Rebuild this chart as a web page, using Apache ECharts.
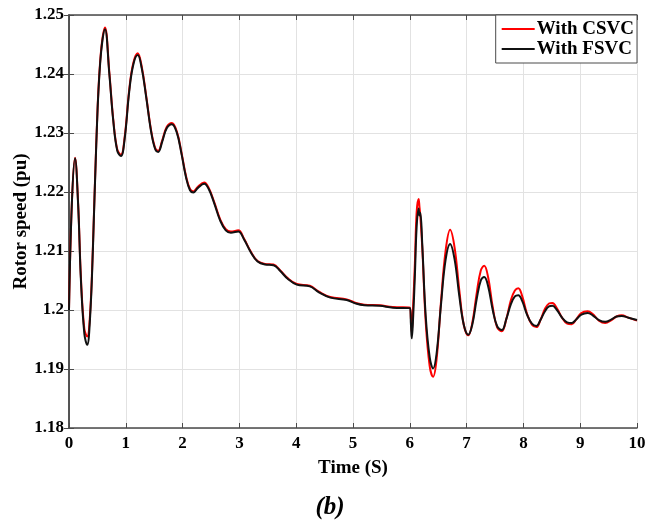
<!DOCTYPE html>
<html>
<head>
<meta charset="utf-8">
<script src="https://cdn.jsdelivr.net/npm/echarts@6/dist/echarts.min.js"></script>
<style>html,body{margin:0;padding:0;background:#fff;}#c{width:660px;height:527px;}</style>
</head>
<body>
<div id="c"></div>
<script>
const time = [0,0.05,0.106,0.16,0.21,0.27,0.32,0.37,0.42,0.48,0.55,0.634,0.71,0.78,0.85,0.915,0.98,1.06,1.13,1.21,1.28,1.36,1.45,1.52,1.57,1.64,1.72,1.81,1.90,1.98,2.06,2.13,2.19,2.27,2.38,2.46,2.56,2.66,2.76,2.85,2.98,3.08,3.20,3.32,3.45,3.60,3.72,3.85,4.01,4.24,4.40,4.60,4.89,5.05,5.20,5.47,5.70,6.00,
  6.02,6.035,6.06,6.09,6.12,6.155,6.17,6.185,6.22,6.28,6.35,6.41,6.47,6.55,6.63,6.71,6.79,6.87,6.95,7.03,7.10,7.18,7.25,7.31,7.38,7.46,7.54,7.62,7.70,7.78,7.85,7.91,7.98,8.06,8.15,8.23,8.30,8.38,8.45,8.51,8.59,8.68,8.77,8.85,8.93,9.02,9.13,9.22,9.33,9.44,9.55,9.64,9.73,9.85,10.0];

const fsvc = [1.2000,1.2180,1.2257,1.2180,1.2050,1.1960,1.1941,1.1985,1.2100,1.2280,1.2420,1.2476,1.2400,1.2320,1.2270,1.2261,1.2290,1.2370,1.2415,1.2432,1.2410,1.2360,1.2300,1.2272,1.2268,1.2285,1.2308,1.2315,1.2300,1.2265,1.2225,1.2203,1.2199,1.2207,1.2214,1.2205,1.2180,1.2152,1.2135,1.2131,1.2133,1.2120,1.2098,1.2082,1.2077,1.2076,1.2066,1.2053,1.2043,1.2040,1.2030,1.2021,1.2017,1.2011,1.2008,1.2007,1.2004,1.2003,
  1.1975,1.1952,1.1990,1.2060,1.2140,1.2172,1.2160,1.2165,1.2110,1.1990,1.1920,1.1901,1.1925,1.2010,1.2085,1.2112,1.2085,1.2025,1.1975,1.1958,1.1975,1.2020,1.2050,1.2056,1.2040,1.2000,1.1972,1.1966,1.1985,1.2010,1.2023,1.2025,1.2015,1.1993,1.1977,1.1973,1.1983,1.1998,1.2006,1.2007,1.2000,1.1987,1.1979,1.1978,1.1984,1.1992,1.1995,1.1991,1.1983,1.1980,1.1984,1.1989,1.1990,1.1987,1.1983];

const csvc = [1.2000,1.2180,1.2258,1.2182,1.2055,1.1968,1.1955,1.1992,1.2105,1.2283,1.2423,1.2479,1.2403,1.2322,1.2272,1.2263,1.2293,1.2373,1.2418,1.2435,1.2413,1.2362,1.2302,1.2274,1.2270,1.2287,1.2310,1.2317,1.2302,1.2267,1.2227,1.2205,1.2201,1.2209,1.2216,1.2207,1.2182,1.2154,1.2137,1.2133,1.2135,1.2121,1.2099,1.2083,1.2078,1.2077,1.2067,1.2054,1.2044,1.2041,1.2031,1.2022,1.2018,1.2012,1.2009,1.2008,1.2005,1.2004,
  1.1985,1.1962,1.2010,1.2080,1.2165,1.2188,1.2175,1.2160,1.2105,1.1980,1.1905,1.1887,1.1915,1.2015,1.2100,1.2136,1.2105,1.2035,1.1975,1.1957,1.1978,1.2030,1.2067,1.2075,1.2055,1.2005,1.1970,1.1964,1.1985,1.2017,1.2033,1.2037,1.2023,1.1995,1.1975,1.1971,1.1983,1.2002,1.2011,1.2012,1.2003,1.1987,1.1977,1.1976,1.1984,1.1995,1.1998,1.1993,1.1982,1.1978,1.1983,1.1989,1.1991,1.1987,1.1982];

const xTicks = [0,1,2,3,4,5,6,7,8,9,10];
const yTicks = [1.18,1.19,1.2,1.21,1.22,1.23,1.24,1.25];
const seriesNames = ['With CSVC','With FSVC'];

const font = '"Liberation Serif", "Times New Roman", serif';
const chart = echarts.init(document.getElementById('c'), null, {renderer:'canvas'});
const pair = (arr) => time.map((t,i)=>[t, arr[i]]);
const axisLine = {show:true, lineStyle:{color:'#4a4a4a', width:1.5}};
const tick = {show:true, inside:true, length:5, lineStyle:{color:'#4a4a4a'}};
chart.setOption({
  animation:false,
  backgroundColor:'#fff',
  grid:{left:69, right:23, top:15, bottom:99, containLabel:false, outerBoundsMode:'none'},
  legend:{
    data:seriesNames, orient:'vertical', right:23, top:15, icon:'rect',
    backgroundColor:'#fff', borderColor:'#4a4a4a', borderWidth:1, borderRadius:0,
    padding:[4,3,4,6], itemGap:0, itemWidth:33, itemHeight:2,
    textStyle:{fontFamily:font, fontWeight:'bold', fontSize:19, lineHeight:20, color:'#000', padding:[0,0,0,-3]}
  },
  xAxis:[{
    type:'value', min:0, max:10, interval:1, position:'bottom',
    name:'Time (S)', nameLocation:'middle', nameGap:31, nameMoveOverlap:false,
    nameTextStyle:{fontFamily:font, fontWeight:'bold', fontSize:19, color:'#000'},
    axisLine:axisLine, axisTick:tick,
    axisLabel:{fontFamily:font, fontWeight:'bold', fontSize:17, color:'#000', margin:7},
    splitLine:{show:true, lineStyle:{color:'#e2e2e2', width:1}}
  },{
    type:'value', min:0, max:10, interval:1, position:'top',
    axisLine:axisLine, axisTick:tick,
    axisLabel:{show:false}, splitLine:{show:false}
  }],
  yAxis:[{
    type:'value', min:1.18, max:1.25, interval:0.01, position:'left',
    name:'Rotor speed (pu)', nameLocation:'middle', nameGap:38, nameRotate:90, nameMoveOverlap:false,
    nameTextStyle:{fontFamily:font, fontWeight:'bold', fontSize:19, color:'#000'},
    axisLine:axisLine, axisTick:tick,
    axisLabel:{fontFamily:font, fontWeight:'bold', fontSize:17, color:'#000', margin:5,
      formatter:(v)=>String(parseFloat(v.toFixed(2)))},
    splitLine:{show:true, lineStyle:{color:'#e2e2e2', width:1}}
  },{
    type:'value', min:1.18, max:1.25, interval:0.01, position:'right',
    axisLine:axisLine, axisTick:tick,
    axisLabel:{show:false}, splitLine:{show:false}
  }],
  graphic:[{
    type:'text', left:'center', top:495,
    style:{text:'(b)', fontFamily:font, fontWeight:'bold', fontStyle:'italic', fontSize:25, fill:'#000'}
  }],
  series:[{
    name:seriesNames[0], type:'line', data:pair(csvc), smooth:0.4, showSymbol:false, symbol:'none',
    lineStyle:{color:'#ff0000', width:2}, itemStyle:{color:'#ff0000'}, z:2
  },{
    name:seriesNames[1], type:'line', data:pair(fsvc), smooth:0.4, showSymbol:false, symbol:'none',
    lineStyle:{color:'#111111', width:2}, itemStyle:{color:'#111111'}, z:3
  }]
});
</script>
</body>
</html>
